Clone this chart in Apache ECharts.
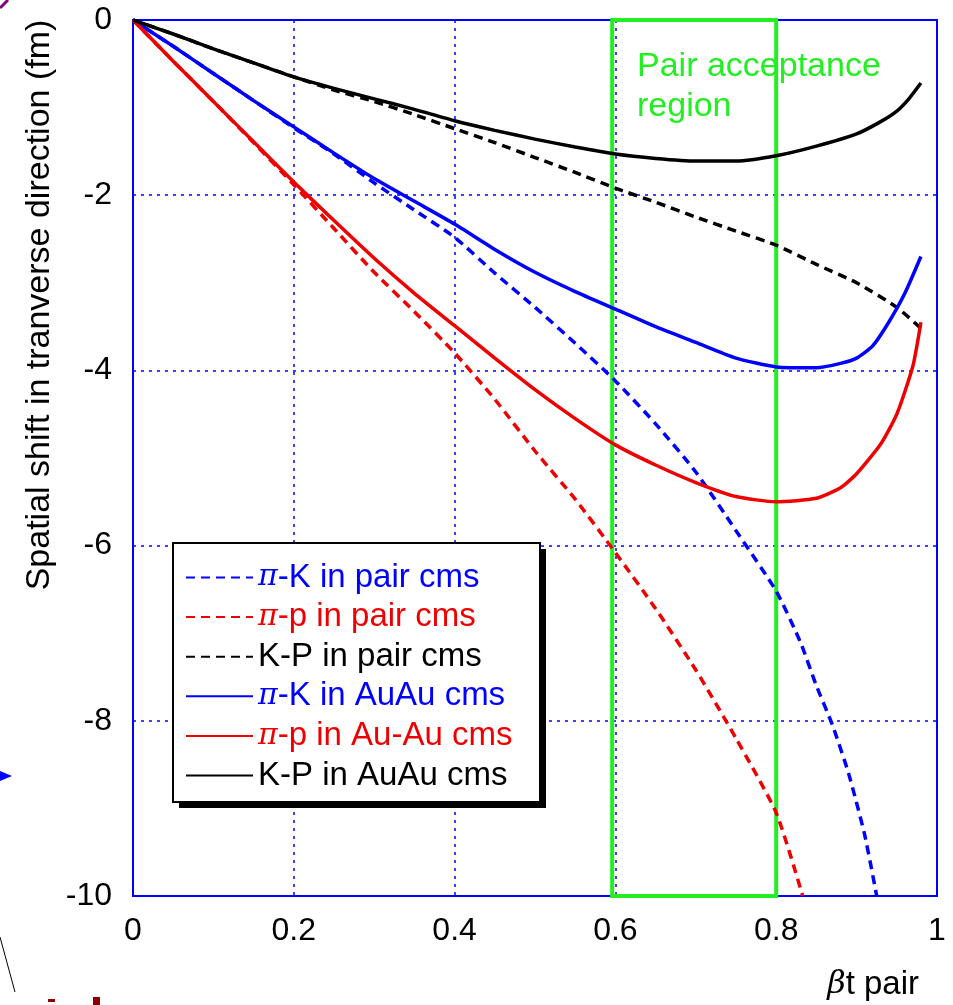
<!DOCTYPE html>
<html><head><meta charset="utf-8">
<script src="https://cdn.jsdelivr.net/npm/echarts@6/dist/echarts.min.js"></script>
<style>html,body{margin:0;padding:0;background:#fff}#c{width:953px;height:1005px}</style>
</head><body><div id="c"></div>
<script>
// ---- data ----
const xTicks = [0, 0.2, 0.4, 0.6, 0.8, 1];
const yTicks = [-10, -8, -6, -4, -2, 0];
const seriesNames = ['π-K in pair cms', 'π-p in pair cms', 'K-P in pair cms', 'π-K in AuAu cms', 'π-p in Au-Au cms', 'K-P in AuAu cms'];

const piK_pair_x = [0, 0.05, 0.1, 0.15, 0.2, 0.25, 0.3, 0.35, 0.4, 0.45, 0.5, 0.55, 0.6, 0.65, 0.7, 0.75, 0.8, 0.83, 0.85, 0.87, 0.89, 0.91, 0.925];
const piK_pair_y = [0, -0.30, -0.61, -0.92, -1.23, -1.53, -1.86, -2.17, -2.48, -2.89, -3.28, -3.69, -4.12, -4.61, -5.16, -5.83, -6.52, -7.10, -7.60, -8.05, -8.60, -9.30, -10.0];

const pip_pair_x = [0, 0.05, 0.1, 0.15, 0.2, 0.25, 0.3, 0.35, 0.4, 0.45, 0.5, 0.55, 0.6, 0.65, 0.7, 0.75, 0.8, 0.833];
const pip_pair_y = [0, -0.47, -0.93, -1.40, -1.88, -2.38, -2.88, -3.33, -3.80, -4.33, -4.92, -5.47, -6.08, -6.72, -7.42, -8.20, -9.05, -10.0];

const KP_pair_x = [0, 0.05, 0.1, 0.15, 0.2, 0.25, 0.3, 0.35, 0.4, 0.45, 0.5, 0.55, 0.6, 0.65, 0.7, 0.75, 0.8, 0.85, 0.9, 0.95, 0.98];
const KP_pair_y = [0, -0.16, -0.33, -0.49, -0.65, -0.80, -0.93, -1.08, -1.24, -1.40, -1.57, -1.74, -1.92, -2.08, -2.25, -2.41, -2.57, -2.79, -3.00, -3.28, -3.52];

const piK_AuAu_x = [0, 0.05, 0.1, 0.15, 0.2, 0.25, 0.3, 0.35, 0.4, 0.45, 0.5, 0.55, 0.6, 0.65, 0.7, 0.75, 0.8, 0.85, 0.88, 0.9, 0.92, 0.94, 0.96, 0.98];
const piK_AuAu_y = [0, -0.30, -0.61, -0.92, -1.22, -1.52, -1.81, -2.07, -2.33, -2.62, -2.88, -3.10, -3.30, -3.50, -3.68, -3.86, -3.96, -3.97, -3.92, -3.86, -3.72, -3.45, -3.12, -2.70];

const pip_AuAu_x = [0, 0.05, 0.1, 0.15, 0.2, 0.25, 0.3, 0.35, 0.4, 0.45, 0.5, 0.55, 0.6, 0.65, 0.7, 0.75, 0.8, 0.85, 0.88, 0.9, 0.93, 0.95, 0.97, 0.98];
const pip_AuAu_y = [0, -0.47, -0.93, -1.39, -1.85, -2.29, -2.72, -3.12, -3.49, -3.86, -4.22, -4.55, -4.85, -5.08, -5.28, -5.44, -5.50, -5.46, -5.34, -5.18, -4.84, -4.50, -3.95, -3.45];

const KP_AuAu_x = [0, 0.05, 0.1, 0.15, 0.2, 0.25, 0.3, 0.35, 0.4, 0.45, 0.5, 0.55, 0.6, 0.65, 0.7, 0.75, 0.8, 0.85, 0.9, 0.93, 0.95, 0.965, 0.98];
const KP_AuAu_y = [0, -0.16, -0.33, -0.49, -0.65, -0.78, -0.90, -1.02, -1.15, -1.26, -1.36, -1.45, -1.53, -1.58, -1.61, -1.61, -1.55, -1.44, -1.30, -1.16, -1.04, -0.90, -0.72];

const acceptanceRegion = [0.596, 0.8];

// ---- chart ----
const BLUE = '#0000ff', RED = '#ee0000', BLACK = '#000000', GREEN = '#22ee22';
const FONT = 'Liberation Sans, Arial, sans-serif';
const zip = (xs, ys) => xs.map((x, i) => [x, ys[i]]);

const defs = [
  [piK_pair_x, piK_pair_y, BLUE, 'dash'],
  [pip_pair_x, pip_pair_y, RED, 'dash'],
  [KP_pair_x, KP_pair_y, BLACK, 'dash'],
  [piK_AuAu_x, piK_AuAu_y, BLUE, 'solid'],
  [pip_AuAu_x, pip_AuAu_y, RED, 'solid'],
  [KP_AuAu_x, KP_AuAu_y, BLACK, 'solid']
];

const series = defs.map((d, i) => ({
  name: seriesNames[i],
  type: 'line',
  data: zip(d[0], d[1]),
  symbol: 'none',
  showSymbol: false,
  smooth: 0.2,
  color: d[2],
  lineStyle: { color: d[2], width: 3.5, type: d[3] === 'dash' ? [9, 6] : 'solid' },
  z: 3
}));

series[0].markArea = {
  silent: true,
  itemStyle: { color: 'rgba(0,0,0,0)', borderColor: GREEN, borderWidth: 4 },
  data: [[{ coord: [acceptanceRegion[0], yTicks[yTicks.length - 1]] }, { coord: [acceptanceRegion[1], yTicks[0]] }]]
};

const chart = echarts.init(document.getElementById('c'), null, { renderer: 'canvas' });
chart.setOption({
  animation: false,
  backgroundColor: '#ffffff',
  grid: { left: 133, right: 16, top: 20, bottom: 109, show: true, borderColor: BLUE, borderWidth: 2, backgroundColor: 'transparent' },
  xAxis: {
    type: 'value', min: xTicks[0], max: xTicks[xTicks.length - 1], interval: 0.2,
    axisLine: { show: true, lineStyle: { color: BLUE, width: 2 } },
    axisTick: { show: false },
    axisLabel: { color: '#000', fontSize: 32, fontFamily: FONT, margin: 19 },
    splitLine: { show: true, lineStyle: { color: BLUE, width: 1.5, type: [3, 5] } }
  },
  yAxis: {
    type: 'value', min: yTicks[0], max: yTicks[yTicks.length - 1], interval: 2,
    axisLine: { show: true, lineStyle: { color: BLUE, width: 2 } },
    axisTick: { show: false },
    axisLabel: { color: '#000', fontSize: 32, fontFamily: FONT, margin: 21 },
    splitLine: { show: true, lineStyle: { color: BLUE, width: 1.5, type: [3, 5] } }
  },
  legend: {
    orient: 'vertical', left: 185, top: 561, z: 60,
    itemWidth: 67, itemHeight: 14, itemGap: 6.6, padding: 0,
    itemStyle: { opacity: 0 },
    data: seriesNames.map((n, i) => ({ name: n, textStyle: { color: defs[i][2] } })),
    formatter: n => n.replace('π', '{p|π}'),
    textStyle: {
      fontSize: 33, fontFamily: FONT, lineHeight: 30,
      rich: { p: { fontFamily: 'DejaVu Serif', fontStyle: 'italic', fontSize: 30, lineHeight: 30 } }
    }
  },
  graphic: [
    { type: 'rect', z: 50, shape: { x: 179, y: 549, width: 367, height: 259 }, style: { fill: '#000' } },
    { type: 'rect', z: 51, shape: { x: 173, y: 543, width: 367, height: 259 }, style: { fill: '#fff', stroke: '#000', lineWidth: 2 } },
    { type: 'text', z: 20, left: 637, top: 47, style: { text: 'Pair acceptance\nregion', fill: GREEN, font: '34px ' + FONT, lineHeight: 40 } },
    { type: 'text', z: 20, x: 40, y: 305, rotation: Math.PI / 2,
      style: { text: 'Spatial shift in tranverse direction (fm)', fill: '#000', font: '34px ' + FONT, textAlign: 'center', textVerticalAlign: 'middle' } },
    { type: 'text', z: 20, x: 919, y: 985,
      style: { text: '{b|β}t pair', fill: '#000', font: '33px ' + FONT, textAlign: 'right', textVerticalAlign: 'middle',
        rich: { b: { fontFamily: 'DejaVu Serif', fontStyle: 'italic', fontSize: 32 } } } },
    // slide artefacts at the left edge
    { type: 'polyline', z: 20, shape: { points: [[0, 8], [4, 4], [8, 0]] }, style: { stroke: '#800080', lineWidth: 3, fill: null } },
    { type: 'polygon', z: 20, shape: { points: [[0, 771], [12, 776], [0, 781]] }, style: { fill: BLUE } },
    { type: 'line', z: 20, shape: { x1: 0, y1: 937, x2: 15, y2: 992 }, style: { stroke: '#000', lineWidth: 1 } },
    { type: 'rect', z: 20, shape: { x: 48, y: 999, width: 7, height: 3 }, style: { fill: '#8b0000' } },
    { type: 'rect', z: 20, shape: { x: 93, y: 997, width: 7, height: 8 }, style: { fill: '#8b0000' } }
  ],
  series: series
});
</script>
</body></html>
